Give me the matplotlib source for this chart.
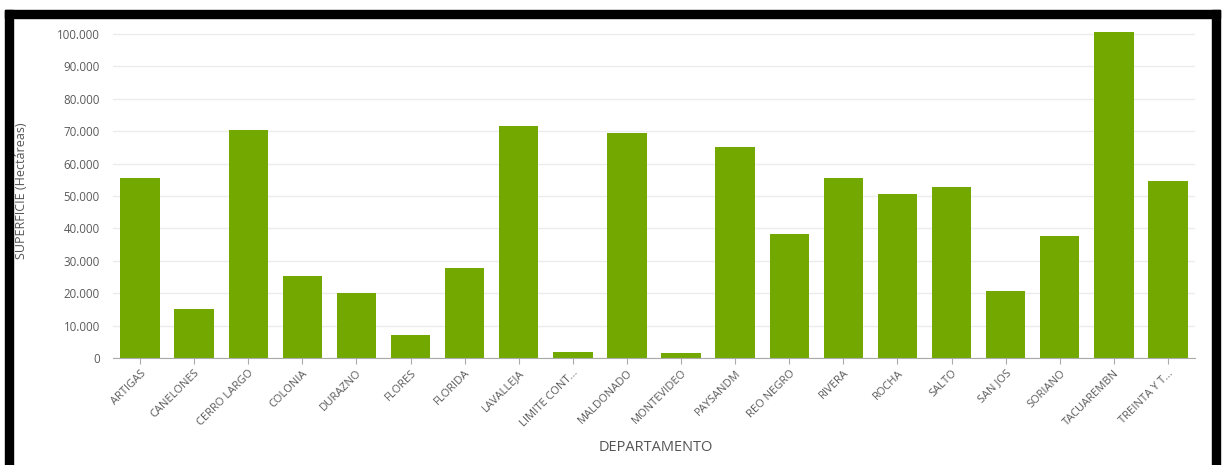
import matplotlib
matplotlib.use("Agg")
import matplotlib.pyplot as plt
from matplotlib.patches import Rectangle
from matplotlib.ticker import FuncFormatter

categories = ["ARTIGAS", "CANELONES", "CERRO LARGO", "COLONIA", "DURAZNO", "FLORES",
              "FLORIDA", "LAVALLEJA", "LIMITE CONT...", "MALDONADO", "MONTEVIDEO",
              "PAYSANDM", "REO NEGRO", "RIVERA", "ROCHA", "SALTO", "SAN JOS",
              "SORIANO", "TACUAREMBN", "TREINTA Y T..."]
values = [55600, 15100, 70400, 25300, 20100, 7100, 27800, 71600, 1900, 69400,
          1500, 65100, 38300, 55600, 50600, 52800, 20700, 37700, 100600, 54600]
y_ticks = [0, 10000, 20000, 30000, 40000, 50000, 60000, 70000, 80000, 90000, 100000]

plt.rcParams["font.family"] = ["Open Sans", "DejaVu Sans"]

W, H = 1223, 465
fig = plt.figure(figsize=(W / 100, H / 100), dpi=100)
fig.patch.set_facecolor("white")

x0, x1 = 113, 1195
y_top_px, y0_px = 34, 358
ymax = 100000
top_px = 24
ax_top_val = ymax * (y0_px - top_px) / (y0_px - y_top_px)
ax = fig.add_axes([x0 / W, 1 - y0_px / H, (x1 - x0) / W, (y0_px - top_px) / H])
ax.set_ylim(0, ax_top_val)
ax.set_xlim(-0.5, len(categories) - 0.5)

ax.bar(range(len(categories)), values, width=0.73, color="#72a800", zorder=2)

ax.set_yticks(y_ticks)
ax.yaxis.set_major_formatter(FuncFormatter(lambda v, p: f"{int(v):,}".replace(",", ".")))
ax.grid(axis="y", color="#ececec", linewidth=1, zorder=0)
ax.set_xticks(range(len(categories)))
ax.set_xticklabels(categories, rotation=45, ha="right", rotation_mode="anchor",
                   fontsize=8, color="#5a5a5a")
ax.tick_params(axis="y", length=0, labelsize=8.3, labelcolor="#5a5a5a", pad=9.5)
ax.tick_params(axis="x", length=4, color="#aaaaaa", pad=3)
for s in ["top", "right", "left"]:
    ax.spines[s].set_visible(False)
ax.spines["bottom"].set_color("#aaaaaa")

ax.set_ylabel("SUPERFICIE (Hectáreas)", fontsize=9, color="#555555")
ax.yaxis.set_label_coords((28 - x0) / (x1 - x0), 0.5)
fig.text(656 / W, 1 - 447 / H, "DEPARTAMENTO", ha="center", va="center",
         fontsize=10.5, color="#555555")

# black frame
fig.patches.append(Rectangle((5 / W, 1 - 18 / H), (1220 - 5) / W, 8 / H,
                             transform=fig.transFigure, color="black", zorder=10))
fig.patches.append(Rectangle((5 / W, 0), 8 / W, 1 - 10 / H,
                             transform=fig.transFigure, color="black", zorder=10))
fig.patches.append(Rectangle((1212 / W, 0), 8 / W, 1 - 10 / H,
                             transform=fig.transFigure, color="black", zorder=10))

fig.savefig("out.png", dpi=100)
